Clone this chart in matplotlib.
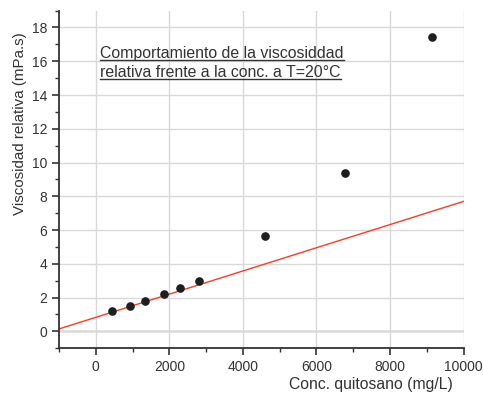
import matplotlib
matplotlib.use("Agg")
import matplotlib.pyplot as plt
from matplotlib.lines import Line2D
from matplotlib.ticker import MultipleLocator

plt.rcParams["font.family"] = ["Liberation Sans", "DejaVu Sans"]

# datos
conc = [453, 941, 1348, 1845, 2288, 2804, 4605, 6776, 9137]
visc = [1.23, 1.52, 1.80, 2.22, 2.55, 2.97, 5.62, 9.36, 17.41]

# recta de ajuste (extremos)
fit_x = [-1000, 10000]
fit_y = [0.14, 7.70]

titulo = ["Comportamiento de la viscosiddad",
          "relativa frente a la conc. a T=20\u00b0C"]

fig = plt.figure(figsize=(4.83, 3.93), dpi=100)
ax = fig.add_axes([0.122, 0.114, 0.838, 0.859])

dark = "#333333"
ax.set_xlim(-1000, 10000)
ax.set_ylim(-1, 19)
ax.xaxis.set_major_locator(MultipleLocator(2000))
ax.xaxis.set_minor_locator(MultipleLocator(1000))
ax.yaxis.set_major_locator(MultipleLocator(2))
ax.yaxis.set_minor_locator(MultipleLocator(1))

ax.grid(True, which="major", color="#d9d9d9", lw=1.0, zorder=0)
ax.axhline(0, color="#e3e3e3", lw=2.0, zorder=0)
for s in ["top", "right"]:
    ax.spines[s].set_visible(False)
for s in ["left", "bottom"]:
    ax.spines[s].set_color(dark)
    ax.spines[s].set_linewidth(1.3)
ax.tick_params(which="major", direction="out", length=5, width=1.2, color=dark,
               labelsize=10, labelcolor=dark)
ax.tick_params(which="minor", direction="out", length=3, width=1.0, color=dark)

ax.plot(fit_x, fit_y, color="#ff3b1f", lw=1.0, zorder=2)
ax.scatter(conc, visc, s=27, color="#1e1e1e", zorder=3, clip_on=False)

ax.set_xlabel("Conc. quitosano (mg/L)", fontsize=11.3, color=dark)
ax.xaxis.set_label_coords(0.771, -0.085)
ax.set_ylabel("Viscosidad relativa (mPa.s)", fontsize=10.9, color=dark)
ax.yaxis.set_label_coords(-0.08, 0.665)

txts = []
for i, line in enumerate(titulo):
    yb = 16.2 - 1.13 * i
    t = ax.text(117, yb, line, fontsize=11.4, color=dark,
                va="baseline", ha="left")
    txts.append((t, yb))

fig.canvas.draw()
r = fig.canvas.get_renderer()
inv = fig.transFigure.inverted()
for t, yb in txts:
    bb = t.get_window_extent(renderer=r)
    base = ax.transData.transform((117, yb))[1] - 2
    p0 = inv.transform((bb.x0, base))
    p1 = inv.transform((bb.x1, base))
    fig.add_artist(Line2D([p0[0], p1[0]], [p0[1], p1[1]], color=dark, lw=1.0))

fig.savefig("out.png", dpi=100)
